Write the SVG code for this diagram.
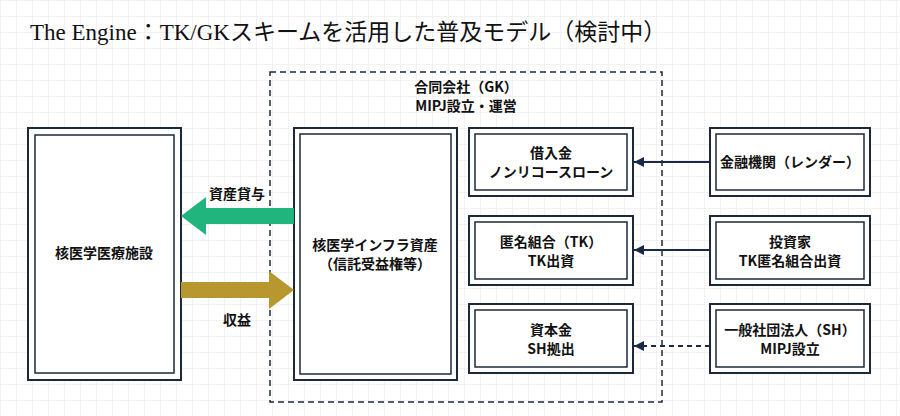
<svg xmlns="http://www.w3.org/2000/svg" width="900" height="416" viewBox="0 0 900 416">
<defs>
<pattern id="grid" width="16" height="16" patternUnits="userSpaceOnUse"><path d="M16 0H0V16" fill="none" stroke="#e6e6ea" stroke-width="1"/></pattern>
<marker id="ah" viewBox="0 0 10 10" refX="10" refY="5" markerWidth="10" markerHeight="10" markerUnits="userSpaceOnUse" orient="auto"><path d="M0 0L10 5L0 10z" fill="#1b2a44"/></marker>
<style>
.o{fill:#fff;stroke:#1b2a3a;stroke-width:2}
.i{fill:none;stroke:#1b2a3a;stroke-width:1.5}
.t{font-family:"Noto Sans CJK JP","Noto Sans",sans-serif;font-size:14px;font-weight:bold;fill:#111;text-anchor:middle}
.c{stroke:#1b2a44;stroke-width:1.8;fill:none}
</style>
</defs>
<rect width="900" height="416" fill="#fff"/>
<rect width="900" height="416" fill="url(#grid)"/>
<text x="30" y="40" font-family="'Liberation Serif','Noto Sans CJK JP',serif" font-size="23" fill="#111">The Engine：TK/GKスキームを活用した普及モデル（検討中）</text>
<g id="gk"><rect x="270" y="72" width="392" height="330" fill="none" stroke="#1b2a3a" stroke-width="1.5" stroke-dasharray="6,4"/>
<text class="t" x="466" y="92">合同会社（GK）</text><text class="t" x="466" y="111">MIPJ設立・運営</text></g>
<g id="facility"><rect class="o" x="28" y="128" width="153" height="252"/><rect class="i" x="35" y="135" width="139" height="238"/><text class="t" x="104" y="258">核医学医療施設</text></g>
<g id="asset"><rect class="o" x="294" y="128" width="163" height="252"/><rect class="i" x="300" y="134" width="151" height="240"/><text class="t" x="375" y="250">核医学インフラ資産</text><text class="t" x="375" y="269">（信託受益権等）</text></g>
<g id="loan"><rect class="o" x="469" y="128" width="164" height="68"/><rect class="i" x="475" y="134" width="152" height="56"/><text class="t" x="551" y="158">借入金</text><text class="t" x="551" y="177">ノンリコースローン</text></g>
<g id="tk"><rect class="o" x="469" y="216" width="164" height="69"/><rect class="i" x="475" y="222" width="152" height="57"/><text class="t" x="551" y="247">匿名組合（TK）</text><text class="t" x="551" y="266">TK出資</text></g>
<g id="capital"><rect class="o" x="469" y="304" width="164" height="69"/><rect class="i" x="475" y="310" width="152" height="57"/><text class="t" x="551" y="335">資本金</text><text class="t" x="551" y="354">SH拠出</text></g>
<g id="lender"><rect class="o" x="710" y="128" width="160" height="68"/><rect class="i" x="716" y="134" width="148" height="56"/><text class="t" x="790" y="167">金融機関（レンダー）</text></g>
<g id="investor"><rect class="o" x="710" y="216" width="160" height="69"/><rect class="i" x="716" y="222" width="148" height="57"/><text class="t" x="790" y="247">投資家</text><text class="t" x="790" y="266">TK匿名組合出資</text></g>
<g id="sh"><rect class="o" x="710" y="304" width="160" height="69"/><rect class="i" x="716" y="310" width="148" height="57"/><text class="t" x="790" y="335">一般社団法人（SH）</text><text class="t" x="790" y="354">MIPJ設立</text></g>
<g id="connectors">
<path d="M294 208H206V197L181 216L206 235V224H294z" fill="#1fb57c"/>
<path d="M181 282H269V271L294 290L269 309V298H181z" fill="#b8982e"/>
<text class="t" x="237" y="199">資産貸与</text><text class="t" x="237" y="325">収益</text>
<path class="c" d="M710 162H634" marker-end="url(#ah)"/>
<path class="c" d="M710 250H634" marker-end="url(#ah)"/>
<path class="c" d="M710 346H634" stroke-dasharray="5,4" marker-end="url(#ah)"/>
</g>
</svg>
